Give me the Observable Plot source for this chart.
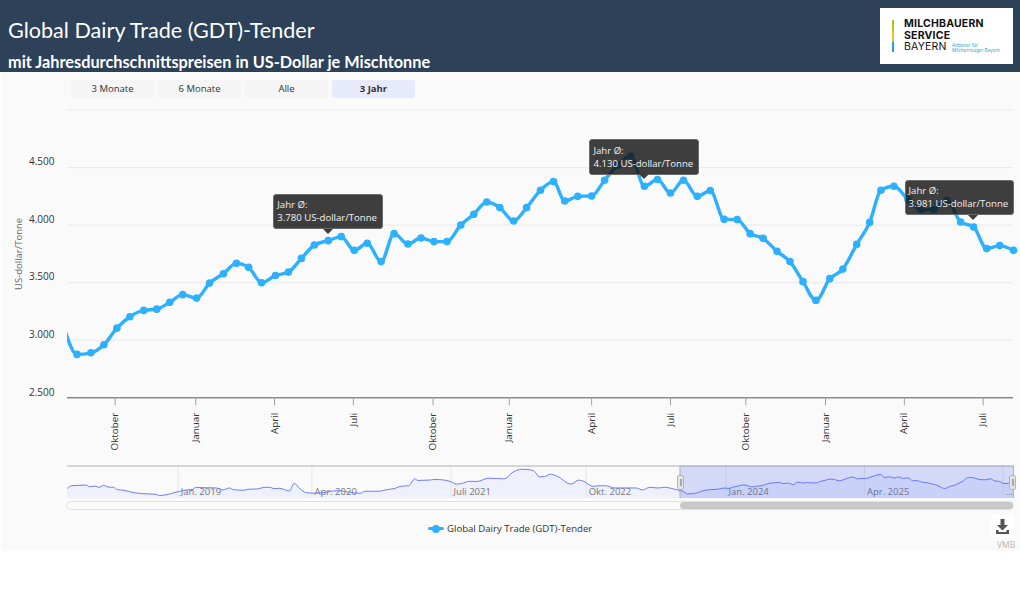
<!DOCTYPE html>
<html lang="de">
<head>
<meta charset="utf-8">
<title>Global Dairy Trade (GDT)-Tender</title>
<script src="https://cdn.jsdelivr.net/npm/d3@7"></script>
<script src="https://cdn.jsdelivr.net/npm/@observablehq/plot@0.6"></script>
<style>
  html, body { margin: 0; padding: 0; background: #fff; }
  body { width: 1020px; height: 600px; position: relative; overflow: hidden; font-family: "Open Sans", sans-serif; color: #333; }
  .abs { position: absolute; }
  #bg { left: 1px; top: 72px; width: 1019px; height: 479px; background: #fafafa; }
  #head { left: 0; top: 0; width: 1020px; height: 72px; background: #2d4159; overflow: hidden; color: #fff; font-family: Lato, sans-serif; }
  #head h1 { position: absolute; left: 8px; top: 15px; margin: 0; font-size: 21.6px; line-height: 30px; font-weight: 400; white-space: nowrap; }
  #head h2 { position: absolute; left: 8px; top: 50px; margin: 0; font-size: 16.3px; line-height: 24px; font-weight: 700; white-space: nowrap; }
  #logo { left: 880px; top: 8px; width: 133px; height: 56px; background: #fff; font-family: Inter, sans-serif; color: #111; }
  #logo i { position: absolute; left: 12px; width: 2px; }
  #logo span { position: absolute; left: 24px; font-size: 10.5px; line-height: 12px; letter-spacing: .2px; white-space: nowrap; }
  #logo small { position: absolute; left: 72px; font-size: 4.6px; line-height: 5px; color: #22a5dc; white-space: nowrap; }
  .btn { top: 80px; width: 83px; height: 18px; line-height: 18px; border-radius: 2px; background: #f5f5f5; text-align: center; font-size: 9.5px; color: #333; }
  .btn.on { background: #e7e9fd; font-weight: 700; }
  .tip { width: 107.5px; height: 33.5px; padding: 0; background: rgba(15,15,15,.8); border: 1px solid #6a6a6a; border-radius: 3px; color: #f2f2f2; font-size: 9.6px; line-height: 13px; white-space: nowrap; box-sizing: content-box; }
  .tip div { margin: 3.5px 0 0 3px; }
  .arrow { width: 0; height: 0; border-left: 5px solid transparent; border-right: 5px solid transparent; border-top: 5px solid #3c3c3c; }
  #track { left: 66px; top: 501px; width: 946px; height: 7px; border: 1px solid #e2e2e2; border-radius: 5px; }
  #thumb { left: 680px; top: 501.5px; width: 333px; height: 7.5px; border-radius: 4px; background: #c8c8c8; }
  .handle { top: 475px; width: 5px; height: 13px; background: #e4e4e4; border: 1px solid #b4b4b4; border-radius: 2px; }
  .handle::after { content: ""; position: absolute; left: 1.5px; top: 3px; width: 2px; height: 7px; background: #a8a8a8; }
  #lgLine { left: 428px; top: 527px; width: 16px; height: 3px; background: #2db0ff; border-radius: 2px; }
  #lgDot { left: 432px; top: 524.5px; width: 8px; height: 8px; background: #2db0ff; border-radius: 50%; }
  #lgText { left: 447px; top: 521px; font-size: 9.6px; line-height: 15px; color: #333; white-space: nowrap; }
  #dl { left: 991px; top: 515px; width: 23px; height: 23px; background: #fff; border-radius: 3px; }
  #vmb { left: 997px; top: 539px; font-size: 8.5px; line-height: 11px; color: #b4b4b4; }
  svg.plot { position: absolute; left: 0; background: transparent; overflow: visible; }
</style>
</head>
<body>
<div class="abs" id="bg"></div>
<div id="main" class="abs" style="left:0;top:0"></div>
<div id="mini" class="abs" style="left:0;top:460px"></div>
<div class="abs" id="head">
  <h1>Global Dairy Trade (GDT)-Tender</h1>
  <h2>mit Jahresdurchschnittspreisen in US-Dollar je Mischtonne</h2>
</div>
<div class="abs" id="logo">
  <i style="top:12px;height:11px;background:#b9c400"></i>
  <i style="top:23px;height:11px;background:#fbb92e"></i>
  <i style="top:34px;height:10px;background:#1fa3dc"></i>
  <span style="top:10px;font-weight:700">MILCHBAUERN</span>
  <span style="top:21.5px;font-weight:700">SERVICE</span>
  <span style="top:33px;font-weight:400">BAYERN</span>
  <small style="top:35px">Anbieter für</small>
  <small style="top:40px">Milcherzeuger Bayern</small>
</div>
<div class="abs btn" style="left:71px">3 Monate</div>
<div class="abs btn" style="left:158px">6 Monate</div>
<div class="abs btn" style="left:245px">Alle</div>
<div class="abs btn on" style="left:332px">3 Jahr</div>
<div class="abs" id="track"></div>
<div class="abs" id="thumb"></div>
<div class="abs handle" style="left:677px"></div>
<div class="abs handle" style="left:1009px"></div>
<div class="abs" id="lgLine"></div>
<div class="abs" id="lgDot"></div>
<div class="abs" id="lgText">Global Dairy Trade (GDT)-Tender</div>
<div class="abs" id="dl">
  <svg width="23" height="23" viewBox="0 0 23 23" aria-hidden="true">
    <path d="M9.5 4h4v6h3.500l-5.500 5.500L6 10h3.500z M5 15h2.500v2h8v-2H18v4H5z" fill="#555"/>
  </svg>
</div>
<div class="abs" id="vmb">VMB</div>

<script>
// Main series: tender dates and prices (US-Dollar per tonne)
const dates = [
  "2023-08-02","2023-08-17","2023-09-02","2023-09-17","2023-10-02","2023-10-17","2023-11-02","2023-11-17","2023-12-02","2023-12-17",
  "2024-01-02","2024-01-17","2024-02-02","2024-02-17","2024-03-02","2024-03-17","2024-04-02","2024-04-17","2024-05-02","2024-05-17",
  "2024-06-02","2024-06-17","2024-07-02","2024-07-17","2024-08-02","2024-08-17","2024-09-02","2024-09-17","2024-10-02","2024-10-17",
  "2024-11-02","2024-11-17","2024-12-02","2024-12-17","2025-01-02","2025-01-17","2025-02-02","2025-02-17","2025-03-02","2025-03-17",
  "2025-04-02","2025-04-17","2025-05-02","2025-05-17","2025-06-02","2025-06-17","2025-07-02","2025-07-17","2025-08-02","2025-08-17",
  "2025-09-02","2025-09-17","2025-10-02","2025-10-17","2025-11-02","2025-11-17","2025-12-02","2025-12-17","2026-01-02","2026-01-17",
  "2026-02-02","2026-02-17","2026-03-02","2026-03-17","2026-04-02","2026-04-17","2026-05-02","2026-05-17","2026-06-02","2026-06-17",
  "2026-07-02","2026-07-17","2026-08-02"
];
const prices = [
  3110,2877,2891,2961,3105,3204,3259,3270,3329,3396,
  3366,3497,3578,3668,3633,3500,3563,3592,3711,3827,
  3865,3900,3781,3842,3683,3926,3836,3888,3857,3857,
  4001,4094,4201,4152,4036,4152,4303,4378,4210,4250,
  4253,4390,4520,4601,4337,4396,4279,4390,4250,4300,
  4050,4048,3926,3885,3772,3683,3509,3346,3535,3618,
  3833,4024,4303,4338,4224,4135,4135,4216,4027,3984,
  3796,3822,3781
];

// Earlier history, only visible in the overview strip
const historyDates = [
  "2018-01-01","2018-01-15","2018-02-07","2018-03-03","2018-03-15","2018-04-02","2018-04-15","2018-05-01","2018-05-15","2018-06-03",
  "2018-06-15","2018-07-07","2018-08-07","2018-09-05","2018-10-18","2018-11-02","2018-12-02","2018-12-30","2019-02-02","2019-02-22",
  "2019-03-01","2019-03-27","2019-05-10","2019-05-30","2019-06-22","2019-07-04","2019-08-07","2019-08-23","2019-09-20","2019-10-18",
  "2019-11-04","2019-11-16","2019-12-04","2020-01-07","2020-01-22","2020-02-11","2020-03-01","2020-04-01","2020-05-04","2020-06-15",
  "2020-07-25","2020-08-28","2020-09-13","2020-10-28","2020-11-25","2020-12-22","2021-01-08","2021-02-05","2021-02-25","2021-03-07",
  "2021-04-15","2021-04-28","2021-06-04","2021-06-25","2021-07-13","2021-08-01","2021-08-22","2021-09-19","2021-10-28","2021-12-16",
  "2022-01-04","2022-01-07","2022-02-16","2022-03-07","2022-03-25","2022-04-15","2022-05-01","2022-05-20","2022-06-09","2022-07-28",
  "2022-08-22","2022-09-03","2022-10-09","2022-11-01","2022-11-18","2022-12-20","2023-03-01","2023-03-22","2023-04-15","2023-05-12",
  "2023-06-03","2023-07-15"
];
const historyPrices = [
  3373,3607,3636,3665,3519,3578,3461,3636,3490,3461,
  3257,3198,2994,2906,2848,2731,2848,3052,3227,3286,
  3461,3432,3403,3227,3403,3257,3198,3286,3315,3461,
  3461,3344,3373,3140,3811,3315,2994,2935,3023,3169,
  3023,2935,3111,3111,3257,3373,3549,3607,4220,4074,
  4103,4162,4103,3957,3753,3811,3987,3987,4279,4220,
  4512,4629,5067,5038,4950,4395,4425,4629,4483,3753,
  4103,4045,3549,3607,3607,3403,3403,3227,3461,3403,
  3461,3227
];

// Axis ticks
const yTicks = [2500, 3000, 3500, 4000, 4500];
const yTickLabels = ["2.500", "3.000", "3.500", "4.000", "4.500"];
const gridValues = [3000, 3500, 4000, 4500, 5000];
const xTickDates = ["2023-09-30","2024-01-01","2024-04-01","2024-07-01","2024-10-01","2024-12-28","2025-04-02","2025-07-02","2025-09-27","2025-12-28","2026-03-29","2026-06-28"];
const xTickLabels = ["Oktober","Januar","April","Juli","Oktober","Januar","April","Juli","Oktober","Januar","April","Juli"];
const miniTickDates = ["2019-01-03","2020-03-21","2021-06-25","2022-09-16","2023-12-23","2025-03-26","2026-06-28"];
const miniTickLabels = ["Jan. 2019","Apr. 2020","Juli 2021","Okt. 2022","Jan. 2024","Apr. 2025","..."];
const selection = ["2023-07-24", "2026-08-02"];
const viewStart = "2023-08-06";
const viewEnd = "2026-08-02";

// Annual-average callouts
const tipDates = ["2024-06-02", "2025-06-02", "2026-06-17"];
const tipTexts = ["3.780 US-dollar/Tonne", "4.130 US-dollar/Tonne", "3.981 US-dollar/Tonne"];

const d = s => new Date(s + "T00:00:00Z");
const series = dates.map((s, i) => ({date: d(s), price: prices[i]}));
const visible = series.filter(r => r.date >= d(viewStart));
const history = historyDates.map((s, i) => ({date: d(s), price: historyPrices[i]})).concat(series);
const xTicks = xTickDates.map(d);
const xLabel = new Map(xTicks.map((t, i) => [+t, xTickLabels[i]]));
const yLabel = new Map(yTicks.map((t, i) => [t, yTickLabels[i]]));
const font = '"Open Sans", sans-serif';
const blue = "#2db0ff";

const main = Plot.plot({
  width: 1020, height: 460,
  marginLeft: 67, marginRight: 7, marginTop: 109.5, marginBottom: 62.7,
  style: {background: "transparent", fontFamily: font, overflow: "visible"},
  x: {type: "utc", domain: [d(viewStart), d(viewEnd)]},
  y: {domain: [2500, 5000]},
  marks: [
    Plot.ruleY(gridValues, {stroke: "#ececec", strokeWidth: 1.2}),
    Plot.axisY({ticks: yTicks, tickFormat: v => yLabel.get(v), tickSize: 0, tickPadding: 13, dy: -5.5, fontSize: 10, color: "#333", label: null}),
    Plot.text(["US-dollar/Tonne"], {frameAnchor: "left", textAnchor: "middle", rotate: -90, dx: -49, fontSize: 9.5, fill: "#666"}),
    Plot.ruleY([2500], {stroke: "#555", strokeWidth: 1}),
    Plot.axisX({ticks: xTicks, tickFormat: t => xLabel.get(+t), tickSize: 8, tickPadding: 7, stroke: "#a0a0a0", fontSize: 9.8, color: "#333",
      tickRotate: -90, textAnchor: "end", label: null}),
    Plot.line(series, {x: "date", y: "price", stroke: blue, strokeWidth: 3.4, curve: "monotone-x", clip: true}),
    Plot.dot(visible, {x: "date", y: "price", r: 3.8, fill: blue})
  ]
});
document.getElementById("main").append(main);

const vmin = 2468, vmax = 5359;
const selRange = selection.map(d);
const mini = Plot.plot({
  width: 1020, height: 40,
  marginLeft: 67, marginRight: 7, marginTop: 5.5, marginBottom: 2,
  style: {background: "transparent", fontFamily: font, overflow: "visible"},
  x: {type: "utc", domain: [d("2018-01-01"), d(viewEnd)], axis: null},
  y: {domain: [vmin, vmax], axis: null},
  marks: [
    Plot.areaY(history, {x: "date", y1: vmin, y2: "price", fill: "#eef0fb", curve: "monotone-x"}),
    Plot.ruleX(miniTickDates.map(d), {stroke: "#e6e6e6", strokeWidth: 1}),
    Plot.text(miniTickLabels, {x: miniTickDates.map(d), y: vmin, dy: -6.5, dx: 2.5, textAnchor: "start", fontSize: 9.5, fill: "#777"}),
    Plot.line(history, {x: "date", y: "price", stroke: "#6f80fb", strokeWidth: 1, curve: "monotone-x"}),
    Plot.ruleY([vmax], {stroke: "#b0b0b0", strokeWidth: 1}),
    Plot.rect([0], {x1: selRange[0], x2: selRange[1], y1: vmin, y2: vmax, fill: "#4f63ee", fillOpacity: .22}),
    Plot.ruleX(selRange, {y1: vmin, y2: vmax, stroke: "#b0b0b0", strokeWidth: 1})
  ]
});
document.getElementById("mini").append(mini);

// Callouts follow the data point through the chart's scales
const xs = main.scale("x"), ys = main.scale("y");
tipDates.forEach((s, i) => {
  const row = series.find(r => +r.date === +d(s));
  const px = xs.apply(row.date), py = ys.apply(row.price);
  const boxW = 109.5;
  const left = Math.min(px - 54.5, 1014 - boxW);
  const box = document.createElement("div");
  box.className = "abs tip";
  box.style.left = left + "px";
  box.style.top = (py - 46.5) + "px";
  box.innerHTML = "<div>Jahr Ø:<br>" + tipTexts[i] + "</div>";
  document.body.append(box);
  const arrow = document.createElement("div");
  arrow.className = "abs arrow";
  arrow.style.left = (px - 5) + "px";
  arrow.style.top = (py - 11.5) + "px";
  document.body.append(arrow);
});
</script>
</body>
</html>
